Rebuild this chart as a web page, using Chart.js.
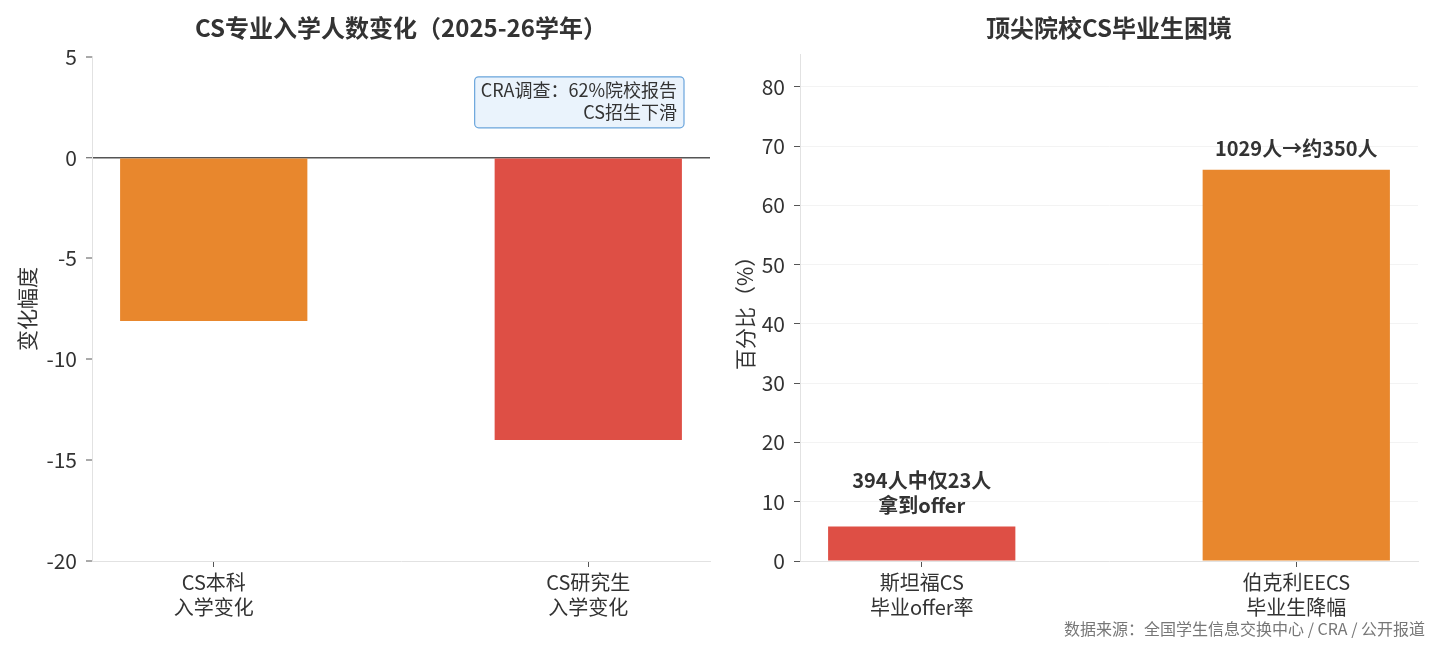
<!DOCTYPE html>
<html>
<head>
<meta charset="utf-8">
<script src="https://cdn.jsdelivr.net/npm/chart.js@4.4.1/dist/chart.umd.min.js"></script>
<style>
  body { margin: 0; background: #fff; }
  #wrap { position: relative; width: 1439px; height: 652px; }
  #c1 { position: absolute; left: 0; top: 0; }
  #c2 { position: absolute; left: 720px; top: 0; }
  #source {
    position: absolute; right: 14px; top: 618px;
    font: 16px/20px "Noto Sans CJK SC", sans-serif; color: #777;
  }
</style>
</head>
<body>
<div id="wrap">
  <canvas id="c1" width="720" height="652"></canvas>
  <canvas id="c2" width="719" height="652"></canvas>
  <div id="source">数据来源：全国学生信息交换中心 / CRA / 公开报道</div>
</div>
<script>
const FONT = '"Noto Sans CJK SC", "Noto Sans", sans-serif';
const ORANGE = "#E8872D";
const RED = "#DE4F45";

// 左图：入学人数变化
const enrollLabels = [["CS本科", "入学变化"], ["CS研究生", "入学变化"]];
const enrollValues = [-8.1, -14];
const enrollColors = [ORANGE, RED];
const enrollTicks = [5, 0, -5, -10, -15, -20];
const noteLines = ["CRA调查：62%院校报告", "CS招生下滑"];

// 右图：毕业生困境
const gradLabels = [["斯坦福CS", "毕业offer率"], ["伯克利EECS", "毕业生降幅"]];
const gradValues = [5.8, 66];
const gradColors = [RED, ORANGE];
const gradTicks = [0, 10, 20, 30, 40, 50, 60, 70, 80];
const gradNotes = [["394人中仅23人", "拿到offer"], ["1029人→约350人"]];

Chart.defaults.font.family = FONT;
Chart.defaults.color = "#333";

function toPoints(values) {
  return values.map((v, i) => ({ x: i, y: v }));
}

function xAxis(labels) {
  return {
    type: "linear",
    offset: false,
    min: -0.325,
    max: 1.325,
    afterBuildTicks: (s) => { s.ticks = labels.map((l, i) => ({ value: i })); },
    afterFit: (s) => { s.height = 91; },
    ticks: {
      callback: (v) => labels[v],
      font: { size: 20, lineHeight: 1.25 },
      color: "#333",
      padding: 3,
      maxRotation: 0,
      autoSkip: false,
    },
    grid: { display: true, offset: false, drawOnChartArea: false, tickLength: 6, tickColor: "#555" },
    border: { color: "#e2e2e2" },
  };
}

function chartTitle(text, bottom) {
  return {
    display: true,
    text,
    fullSize: false,
    font: { size: 24, weight: "bold", lineHeight: 1.2 },
    color: "#333",
    padding: { top: 13, bottom },
  };
}

const noteBox = {
  id: "noteBox",
  afterDraw(chart) {
    const ctx = chart.ctx;
    const area = chart.chartArea;
    ctx.save();
    ctx.font = "18px " + FONT;
    const w = Math.max(...noteLines.map((t) => ctx.measureText(t).width));
    const lh = 22;
    const right = area.right - 26;
    const top = area.top + 20;
    const bw = w + 13, bh = lh * noteLines.length + 7;
    ctx.beginPath();
    ctx.roundRect(right - bw, top, bw, bh, 4);
    ctx.fillStyle = "#eaf3fc";
    ctx.fill();
    ctx.strokeStyle = "#6aa5dc";
    ctx.lineWidth = 1.2;
    ctx.stroke();
    ctx.fillStyle = "#333";
    ctx.textAlign = "right";
    ctx.textBaseline = "middle";
    noteLines.forEach((t, i) => ctx.fillText(t, right - 7, top + 13 + i * lh));
    ctx.restore();
  },
};

const barNotes = {
  id: "barNotes",
  afterDatasetsDraw(chart) {
    const ctx = chart.ctx;
    const bars = chart.getDatasetMeta(0).data;
    ctx.save();
    ctx.font = "bold 20px " + FONT;
    ctx.fillStyle = "#333";
    ctx.textAlign = "center";
    ctx.textBaseline = "middle";
    bars.forEach((bar, i) => {
      const lines = gradNotes[i];
      lines.forEach((t, j) => {
        const y = bar.y - 21 - (lines.length - 1 - j) * 25;
        ctx.fillText(t, bar.x, y);
      });
    });
    ctx.restore();
  },
};

new Chart(document.getElementById("c1"), {
  type: "bar",
  data: {
    datasets: [{
      data: toPoints(enrollValues),
      backgroundColor: enrollColors,
      categoryPercentage: 1,
      barPercentage: 0.5,
    }],
  },
  options: {
    responsive: false,
    animation: false,
    layout: { padding: { left: 0, right: 10, bottom: 0 } },
    plugins: {
      legend: { display: false },
      tooltip: { enabled: false },
      title: chartTitle("CS专业入学人数变化（2025-26学年）", 15),
    },
    scales: {
      x: xAxis(enrollLabels),
      y: {
        min: -20,
        max: 5,
        afterBuildTicks: (s) => { s.ticks = enrollTicks.map((v) => ({ value: v })); },
        afterFit: (s) => { s.width = 92; },
        ticks: { font: { size: 21 }, color: "#333", padding: 9 },
        grid: {
          color: (c) => (c.tick && c.tick.value === 0 ? "#555" : "rgba(0,0,0,0)"),
          lineWidth: (c) => (c.tick && c.tick.value === 0 ? 1.5 : 0),
          tickColor: "#555",
          tickWidth: 1,
          tickLength: 6,
        },
        border: { color: "#e2e2e2" },
        title: { display: true, text: "变化幅度", font: { size: 21 }, color: "#333", padding: { top: 14 } },
      },
    },
  },
  plugins: [noteBox],
});

new Chart(document.getElementById("c2"), {
  type: "bar",
  data: {
    datasets: [{
      data: toPoints(gradValues),
      backgroundColor: gradColors,
      categoryPercentage: 1,
      barPercentage: 0.5,
    }],
  },
  options: {
    responsive: false,
    animation: false,
    layout: { padding: { left: 0, right: 21, bottom: 0 } },
    plugins: {
      legend: { display: false },
      tooltip: { enabled: false },
      title: chartTitle("顶尖院校CS毕业生困境", 13),
    },
    scales: {
      x: xAxis(gradLabels),
      y: {
        min: 0,
        max: 85.4,
        afterBuildTicks: (s) => { s.ticks = gradTicks.map((v) => ({ value: v })); },
        afterFit: (s) => { s.width = 80; },
        ticks: { font: { size: 21 }, color: "#333", padding: 9 },
        grid: { color: "#f3f3f3", lineWidth: 1, tickColor: "#555", tickLength: 6 },
        border: { color: "#e2e2e2" },
        title: { display: true, text: "百分比（%）", font: { size: 21 }, color: "#333", padding: { top: 12 } },
      },
    },
  },
  plugins: [barNotes],
});
</script>
</body>
</html>
